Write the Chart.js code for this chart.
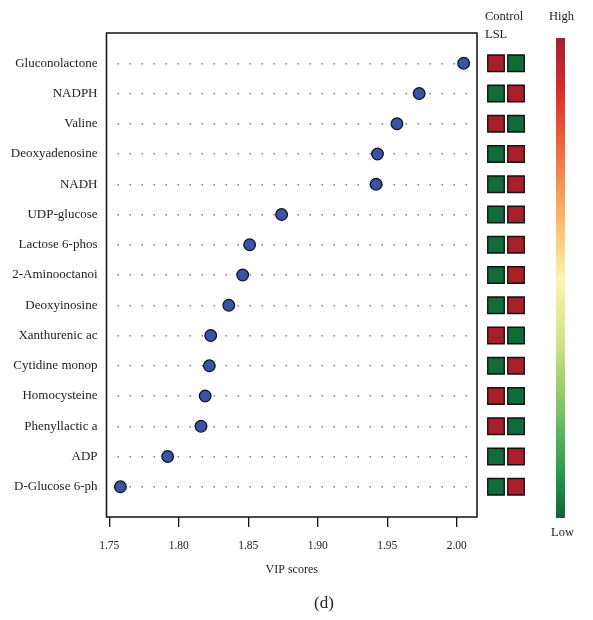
<!DOCTYPE html>
<html>
<head>
<meta charset="utf-8">
<title>VIP scores</title>
<script src="https://cdn.jsdelivr.net/npm/chart.js@4.4.1/dist/chart.umd.min.js"></script>
<style>
  html, body { margin: 0; padding: 0; background: #fff; }
  #wrap { position: relative; width: 593px; height: 620px; overflow: hidden; }
  #wrap canvas { position: absolute; left: 0; top: 0; }
  .lbl { position: absolute; font-family: "Liberation Serif", "DejaVu Serif", serif; color: #222; white-space: nowrap; line-height: 1; }
</style>
</head>
<body>
<div id="wrap">
  <canvas id="vip" width="593" height="620"></canvas>
  <canvas id="heat" width="593" height="620"></canvas>
  <canvas id="bar" width="593" height="620"></canvas>
  <div class="lbl" style="left:485px; top:10px; font-size:12.5px;">Control</div>
  <div class="lbl" style="left:485px; top:28px; font-size:12.5px;">LSL</div>
  <div class="lbl" style="left:549px; top:10px; font-size:12.5px;">High</div>
  <div class="lbl" style="left:551px; top:526px; font-size:12.5px;">Low</div>
  <div class="lbl" style="left:314px; top:594px; font-size:17px;">(d)</div>
</div>
<script>
// Metabolites ranked by VIP score (top to bottom)
const metabolites = [
  'Gluconolactone', 'NADPH', 'Valine', 'Deoxyadenosine', 'NADH',
  'UDP-glucose', 'Lactose 6-phos', '2-Aminooctanoi', 'Deoxyinosine',
  'Xanthurenic ac', 'Cytidine monop', 'Homocysteine', 'Phenyllactic a',
  'ADP', 'D-Glucose 6-ph'
];
const vipScores = [
  2.005, 1.973, 1.957, 1.943, 1.942,
  1.874, 1.851, 1.846, 1.836,
  1.823, 1.822, 1.819, 1.816,
  1.792, 1.758
];
// Relative abundance in each group
const groups = ['Control', 'LSL'];
const controlLevel = ['High', 'Low', 'High', 'Low', 'Low', 'Low', 'Low', 'Low', 'Low', 'High', 'Low', 'High', 'High', 'Low', 'Low'];
const lslLevel     = ['Low', 'High', 'Low', 'High', 'High', 'High', 'High', 'High', 'High', 'Low', 'High', 'Low', 'Low', 'High', 'High'];
const xTicks = [1.75, 1.80, 1.85, 1.90, 1.95, 2.00];

const SERIF = '"Liberation Serif", "DejaVu Serif", serif';
const INK = '#222';
const HIGH_COLOR = '#a81e2b';
const LOW_COLOR = '#106a3a';

// Solid frame around the plotting area
const framePlugin = {
  id: 'frame',
  afterDraw(chart) {
    const { ctx, chartArea: a } = chart;
    ctx.save();
    ctx.strokeStyle = '#111';
    ctx.lineWidth = 1.5;
    ctx.strokeRect(a.left, a.top, a.width, a.height);
    ctx.restore();
  }
};

new Chart(document.getElementById('vip'), {
  type: 'scatter',
  data: {
    datasets: [{
      data: vipScores.map((v, i) => ({ x: v, y: i })),
      backgroundColor: '#3953a6',
      borderColor: '#111',
      borderWidth: 1.3,
      pointRadius: 5.8,
      pointHoverRadius: 5.8
    }]
  },
  options: {
    responsive: false,
    animation: false,
    events: [],
    layout: { padding: { top: 33, right: 116, left: 0, bottom: 0 } },
    plugins: { legend: { display: false }, tooltip: { enabled: false } },
    scales: {
      x: {
        type: 'linear',
        min: 1.748,
        max: 2.0146,
        afterBuildTicks: s => { s.ticks = xTicks.map(v => ({ value: v })); },
        afterFit: s => { s.height = 103; },
        ticks: {
          callback: v => v.toFixed(2),
          font: { family: SERIF, size: 11.5 },
          color: INK,
          padding: 12,
          maxRotation: 0,
          autoSkip: false
        },
        grid: { drawOnChartArea: false, drawTicks: true, tickLength: 10, color: '#111', lineWidth: 1.3 },
        border: { display: false },
        title: {
          display: true,
          text: 'VIP scores',
          font: { family: SERIF, size: 12 },
          color: INK,
          padding: { top: 12, bottom: 43 }
        }
      },
      y: {
        type: 'linear',
        min: -1,
        max: 15,
        reverse: true,
        afterBuildTicks: s => { s.ticks = metabolites.map((_, i) => ({ value: i })); },
        afterFit: s => { s.width = 106.5; },
        ticks: {
          callback: v => metabolites[v],
          font: { family: SERIF, size: 13 },
          color: INK,
          padding: 9,
          autoSkip: false
        },
        grid: { drawTicks: false, color: '#808080', lineWidth: 1.5 },
        border: { display: false, dash: [1.5, 10.5], dashOffset: 1.5 }
      }
    }
  },
  plugins: [framePlugin]
});

// Group heatmap: one square per metabolite and group
const cells = [];
metabolites.forEach((m, i) => {
  cells.push({ x: 0, y: i, level: controlLevel[i] });
  cells.push({ x: 1, y: i, level: lslLevel[i] });
});

new Chart(document.getElementById('heat'), {
  type: 'scatter',
  data: {
    datasets: [{
      data: cells,
      pointStyle: 'rect',
      pointRadius: 11.7,
      pointHoverRadius: 11.7,
      borderColor: '#111',
      borderWidth: 1.3,
      backgroundColor: c => (c.raw && c.raw.level === 'High') ? HIGH_COLOR : LOW_COLOR
    }]
  },
  options: {
    responsive: false,
    animation: false,
    events: [],
    layout: { padding: { top: 33, bottom: 103, left: 486, right: 67 } },
    plugins: { legend: { display: false }, tooltip: { enabled: false } },
    scales: {
      x: { display: false, min: -0.5, max: 1.5 },
      y: { display: false, min: -1, max: 15, reverse: true }
    }
  }
});

// Colour key from Low (bottom) to High (top)
const keyStops = [
  [0.00, '#a31f38'],
  [0.10, '#d3282d'],
  [0.20, '#ea5a3b'],
  [0.30, '#f58f50'],
  [0.40, '#fcc374'],
  [0.50, '#f8f4b0'],
  [0.62, '#d8e58c'],
  [0.72, '#a3cf6e'],
  [0.82, '#5eb55e'],
  [0.91, '#23984f'],
  [1.00, '#17603b']
];

new Chart(document.getElementById('bar'), {
  type: 'bar',
  data: {
    labels: ['key'],
    datasets: [{
      data: [1],
      barPercentage: 1,
      categoryPercentage: 1,
      borderWidth: 0,
      backgroundColor: c => {
        const a = c.chart.chartArea;
        if (!a) return '#ccc';
        const g = c.chart.ctx.createLinearGradient(0, a.top, 0, a.bottom);
        keyStops.forEach(([t, col]) => g.addColorStop(t, col));
        return g;
      }
    }]
  },
  options: {
    responsive: false,
    animation: false,
    events: [],
    layout: { padding: { top: 38, bottom: 102, left: 556, right: 28 } },
    plugins: { legend: { display: false }, tooltip: { enabled: false } },
    scales: {
      x: { display: false },
      y: { display: false, min: 0, max: 1 }
    }
  }
});
</script>
</body>
</html>
